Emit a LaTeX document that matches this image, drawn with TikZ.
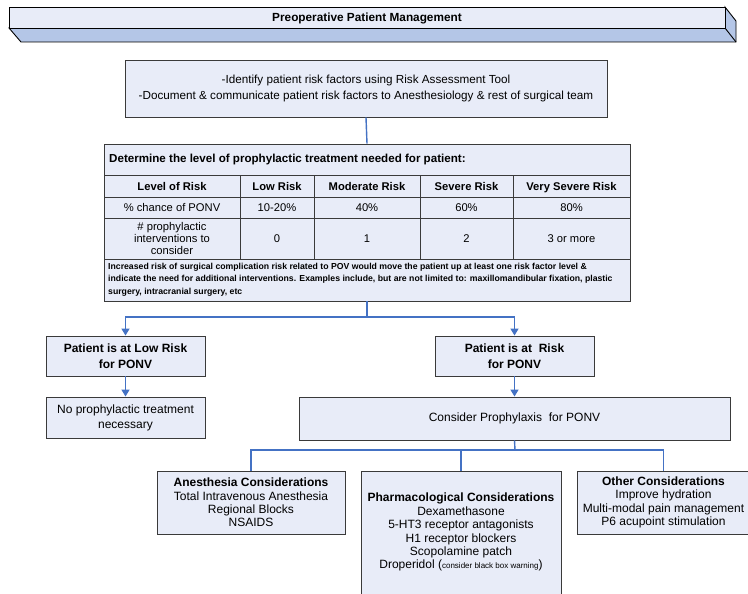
\documentclass[tikz,border=0pt]{standalone}
\usepackage{fontspec}
\setmainfont{Liberation Sans}
\usetikzlibrary{arrows.meta}
\definecolor{boxc}{HTML}{E8ECF8}
\definecolor{shadec}{HTML}{B4C6E7}
\definecolor{bordc}{HTML}{3A3A3A}
\definecolor{linec}{HTML}{4472C4}
\newcommand\fsz[2]{\fontsize{#1}{#2}\selectfont}
\begin{document}
\begin{tikzpicture}[x=1pt,y=-1pt,
 box/.style={draw=bordc, fill=boxc, line width=0.9pt, inner sep=0pt, align=center},
 conn/.style={draw=linec, line width=1.4pt},
 arr/.style={conn, -{Triangle[width=8pt,length=7pt]}},
 cell/.style={inner sep=0pt, align=center, font=\fsz{11.2}{12.2}},
 hcell/.style={cell, font=\bfseries\fsz{11.2}{12.2}, text height=8.2pt, text depth=2.4pt},
 gridln/.style={draw=bordc, line width=0.8pt},
 txt/.style={inner sep=0pt, align=center, font=\fsz{12}{13.4}}]
\useasboundingbox (0,0) rectangle (748,594);
\fill[white] (0,0) rectangle (748,594);
% banner
\path[draw=black, fill=shadec, line width=0.9pt] (9,28) -- (21,42) -- (736,42) -- (736,21) -- (725,7) -- (725,28) -- cycle;
\path[draw=black, fill=boxc, line width=0.9pt] (9,7) rectangle (725,28);
\draw[black, line width=0.9pt] (725,28) -- (736,42);
\node[font=\bfseries\fsz{11.8}{12}, inner sep=0pt] (title) at (367,18) {Preoperative Patient Management};
% top box
\node[box, minimum width=482, minimum height=57, font=\fsz{11.7}{15.5}] (idf) at (366,88.5) {-Identify patient risk factors using Risk Assessment Tool\\-Document \& communicate patient risk factors to Anesthesiology \& rest of surgical team};
% table
\node[box, minimum width=526, minimum height=157] (tbl) at (367,222.5) {};
\draw[gridln] (104,175) -- (630,175);
\draw[gridln] (104,197) -- (630,197);
\draw[gridln] (104,218) -- (630,218);
\draw[gridln] (104,259) -- (630,259);
\foreach \xx in {240,314,420,513} \draw[gridln] (\xx,175) -- (\xx,259);
\node[anchor=west, inner sep=0pt, font=\bfseries\fsz{11.6}{12}] (thead) at (109,159.5) {Determine the level of prophylactic treatment needed for patient:};
\node[hcell] (h1) at (172,187.5) {Level of Risk};
\node[hcell] (h2) at (277,187.5) {Low Risk};
\node[hcell] (h3) at (367,187.5) {Moderate Risk};
\node[hcell] (h4) at (466.5,187.5) {Severe Risk};
\node[hcell] (h5) at (571.5,187.5) {Very Severe Risk};
\node[cell] (p1) at (172,207.5) {\% chance of PONV};
\node[cell] (p2) at (277,207.5) {10-20\%};
\node[cell] (p3) at (367,207.5) {40\%};
\node[cell] (p4) at (466.5,207.5) {60\%};
\node[cell] (p5) at (571.5,207.5) {80\%};
\node[cell] (n1) at (172,238.5) {\# prophylactic\\interventions to\\consider};
\node[cell] (n2) at (277,238.5) {0};
\node[cell] (n3) at (367,238.5) {1};
\node[cell] (n4) at (466.5,238.5) {2};
\node[cell] (n5) at (571.5,238.5) {3 or more};
\node[anchor=north west, align=left, inner sep=0pt, font=\bfseries\fsz{8.7}{12.8}] (note) at (108,262.5) {Increased risk of surgical complication risk related to POV would move the patient up at least one risk factor level \&\\indicate the need for additional interventions. Examples include, but are not limited to: maxillomandibular fixation, plastic\\surgery, intracranial surgery, etc};
% risk level boxes
\node[box, minimum width=159, minimum height=40, font=\bfseries\fsz{12}{15.5}] (low) at (125.5,356) {Patient is at Low Risk\\for PONV};
\node[box, minimum width=159, minimum height=40, font=\bfseries\fsz{12}{15.5}] (risk) at (514.5,356) {Patient is at~ Risk\\for PONV};
\node[box, minimum width=159, minimum height=41, font=\fsz{12}{15}] (nop) at (125.5,417.5) {No prophylactic treatment\\necessary};
\node[box, minimum width=431, minimum height=43, font=\fsz{12}{15}] (cons) at (514.5,418.5) {Consider Prophylaxis~ for PONV};
\coordinate (j1) at (367,317);
\draw[conn] (idf.south) -- (tbl.north);
\draw[conn] (tbl.south) -- (j1);
\draw[arr] (j1) -| (low.north);
\draw[arr] (j1) -| (risk.north);
\draw[arr] (low.south) -- (nop.north);
\draw[arr] (risk.south) -- (cons.north);
% considerations
\node[box, minimum width=188, minimum height=63, font=\fsz{12}{13.4}] (anes) at (251,502.5) {\textbf{Anesthesia Considerations}\\Total Intravenous Anesthesia\\Regional Blocks\\NSAIDS};
\node[box, minimum width=200, minimum height=150, anchor=north] (pharm) at (461,471) {};
\node[txt, anchor=north] (pharmtxt) at (461,493) {\textbf{Pharmacological Considerations}\\Dexamethasone\\5-HT3 receptor antagonists\\H1 receptor blockers\\Scopolamine patch\\Droperidol ({\fsz{8}{13.4}consider black box warning})};
\node[box, minimum width=173, minimum height=63, font=\fsz{12}{13.4}] (other) at (663.5,502.5) {\textbf{Other Considerations}\\Improve hydration\\Multi-modal pain management\\P6 acupoint stimulation};
\coordinate (j2) at (515,450);
\draw[conn] (cons.south) -- (j2);
\draw[conn] (j2) -| (anes.north);
\draw[conn] (j2) -| (pharm.north);
\draw[conn] (j2) -| (other.north);
\end{tikzpicture}
\end{document}
